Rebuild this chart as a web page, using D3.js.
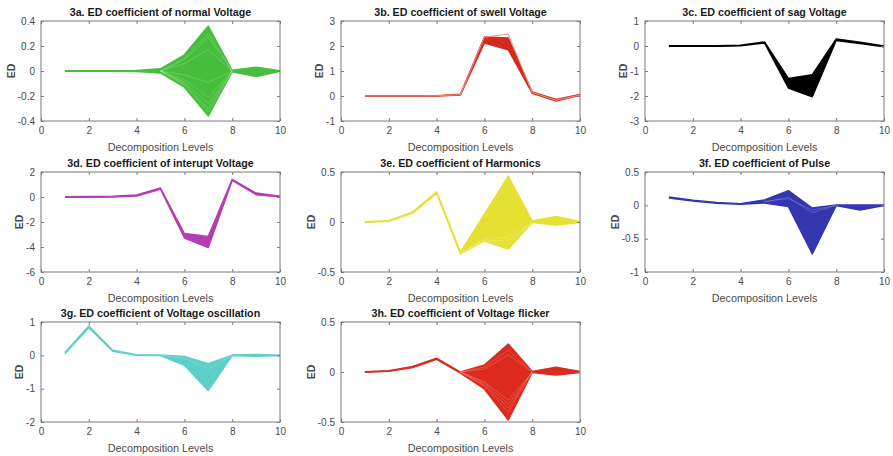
<!DOCTYPE html>
<html>
<head>
<meta charset="utf-8">
<script src="https://cdn.jsdelivr.net/npm/d3@7"></script>
<style>
  html, body { margin: 0; padding: 0; background: #fff; }
  svg { display: block; }
  text { font-family: "Liberation Sans", Arial, sans-serif; }
</style>
</head>
<body>
<svg id="chart" width="893" height="456"></svg>
<script>
// Decomposition levels on the x axis
const levels = [1, 2, 3, 4, 5, 6, 7, 8, 9, 10];
const xTicks = [0, 2, 4, 6, 8, 10];

// 3a. normal voltage: envelope of the ED coefficient family
const normalUpper = [0.002, 0.002, 0.002, 0.004, 0.018, 0.13, 0.36, 0.006, 0.03, 0.003];
const normalLower = [-0.002, -0.002, -0.002, -0.004, -0.016, -0.13, -0.36, -0.006, -0.045, -0.003];
const normalGaps = [
  [null, null, null, null, 0, 0.10, 0.30, 0, null, null],
  [null, null, null, null, 0, 0.09, 0.27, 0, null, null],
  [null, null, null, null, 0, 0.06, 0.17, 0, null, null],
  [null, null, null, null, 0, -0.03, -0.09, 0, null, null],
  [null, null, null, null, 0, -0.07, -0.21, 0, null, null],
  [null, null, null, null, 0, -0.09, -0.26, 0, null, null],
  [null, null, null, null, 0, -0.10, -0.30, 0, null, null],
  [null, null, null, null, 0, -0.11, -0.33, 0, null, null]
];

// 3b. swell voltage
const swellUpper = [0.0, 0.0, 0.0, 0.01, 0.07, 2.36, 2.32, 0.16, -0.14, 0.06];
const swellLower = [-0.01, -0.01, -0.01, 0.0, 0.04, 2.12, 1.85, 0.11, -0.2, 0.03];
const swellOutlier = [0, 0, 0, 0.01, 0.05, 2.35, 2.48, 0.14, -0.17, 0.04];

// 3c. sag voltage
const sagUpper = [0.01, 0.01, 0.01, 0.03, 0.16, -1.3, -1.15, 0.28, 0.15, 0.0];
const sagLower = [-0.01, -0.01, -0.01, 0.01, 0.12, -1.68, -2.03, 0.22, 0.1, -0.03];

// 3d. interruption
const interruptUpper = [0.03, 0.04, 0.06, 0.16, 0.72, -2.92, -3.15, 1.42, 0.32, 0.07];
const interruptLower = [-0.03, -0.02, 0.0, 0.08, 0.62, -3.28, -4.05, 1.32, 0.18, 0.02];

// 3e. harmonics
const harmonicsUpper = [0.004, 0.014, 0.102, 0.302, -0.3, 0.08, 0.46, 0.01, 0.055, 0.005];
const harmonicsLower = [-0.004, 0.006, 0.088, 0.288, -0.32, -0.19, -0.27, -0.005, -0.03, -0.005];
const harmonicsGaps = [
  [null, null, null, null, -0.31, -0.17, -0.15, 0, null, null],
  [null, null, null, null, -0.31, -0.18, -0.19, 0, null, null],
  [null, null, null, null, -0.31, -0.19, -0.22, 0, null, null]
];

// 3f. pulse
const pulseUpper = [0.125, 0.077, 0.042, 0.026, 0.08, 0.22, -0.04, 0.005, 0.005, 0.005];
const pulseLower = [0.11, 0.065, 0.03, 0.015, 0.035, -0.02, -0.73, -0.005, -0.07, -0.005];
const pulseGaps = [
  [null, null, null, null, 0.06, 0.10, -0.07, 0, null, null],
  [null, null, null, null, 0.05, 0.12, -0.11, 0, null, null]
];

// 3g. voltage oscillation
const oscillationUpper = [0.085, 0.88, 0.155, 0.02, 0.008, -0.03, -0.25, 0.008, 0.03, 0.006];
const oscillationLower = [0.05, 0.83, 0.12, 0.0, -0.008, -0.3, -1.06, -0.008, -0.03, -0.006];
const oscillationGaps = [
  [null, null, null, null, 0, -0.1, -0.4, 0, null, null]
];

// 3h. voltage flicker
const flickerUpper = [0.004, 0.014, 0.056, 0.138, 0.0, 0.07, 0.28, 0.005, 0.047, 0.005];
const flickerLower = [-0.004, 0.006, 0.044, 0.126, -0.012, -0.17, -0.48, -0.005, -0.03, -0.005];
const flickerGaps = [
  [null, null, null, null, 0, 0.05, 0.22, 0, null, null],
  [null, null, null, null, 0, 0.03, 0.17, 0, null, null],
  [null, null, null, null, 0, -0.1, -0.28, 0, null, null],
  [null, null, null, null, 0, -0.11, -0.32, 0, null, null],
  [null, null, null, null, 0, -0.13, -0.36, 0, null, null],
  [null, null, null, null, 0, -0.14, -0.40, 0, null, null]
];

const titles = [
  "3a. ED coefficient of normal Voltage",
  "3b. ED coefficient of swell Voltage",
  "3c. ED coefficient of sag Voltage",
  "3d. ED coefficient of interupt Voltage",
  "3e. ED coefficient of Harmonics",
  "3f. ED coefficient of Pulse",
  "3g. ED coefficient of Voltage oscillation",
  "3h. ED coefficient of Voltage flicker"
];

const yDomains = [[-0.4, 0.4], [-1, 3], [-3, 1], [-6, 2], [-0.5, 0.5], [-1, 0.5], [-2, 1], [-0.5, 0.5]];
const yTicks = [
  [-0.4, -0.2, 0, 0.2, 0.4],
  [-1, 0, 1, 2, 3],
  [-3, -2, -1, 0, 1],
  [-6, -4, -2, 0, 2],
  [-0.5, 0, 0.5],
  [-1, -0.5, 0, 0.5],
  [-2, -1, 0, 1],
  [-0.5, 0, 0.5]
];

const panels = [
  { upper: normalUpper, lower: normalLower, gaps: normalGaps, color: "#46be3c" },
  { upper: swellUpper, lower: swellLower, extra: swellOutlier, extraColor: "#e8958a", color: "#d42a1e" },
  { upper: sagUpper, lower: sagLower, color: "#000000" },
  { upper: interruptUpper, lower: interruptLower, color: "#b43cb4" },
  { upper: harmonicsUpper, lower: harmonicsLower, gaps: harmonicsGaps, color: "#e6e032" },
  { upper: pulseUpper, lower: pulseLower, gaps: pulseGaps, color: "#3436b0" },
  { upper: oscillationUpper, lower: oscillationLower, gaps: oscillationGaps, color: "#5ccfc8" },
  { upper: flickerUpper, lower: flickerLower, gaps: flickerGaps, color: "#dc2a1e" }
];

// Grid layout: 3 columns x 3 rows of axes
const colLeft = [41, 341, 645];
const rowTop = [21, 172, 322];
const plotW = 239, plotH = 100;
const axisColor = "#7a7a7a";
const labelColor = "#4a4a4a";

const svg = d3.select("#chart");

panels.forEach((p, i) => {
  const col = i % 3, row = Math.floor(i / 3);
  const g = svg.append("g").attr("transform", `translate(${colLeft[col]},${rowTop[row]})`);

  const x = d3.scaleLinear().domain([0, 10]).range([0, plotW]);
  const y = d3.scaleLinear().domain(yDomains[i]).range([plotH, 0]);

  // filled band between the lowest and highest curve of the family
  const band = levels.map((l, k) => ({ l, lo: p.lower[k], hi: p.upper[k] }));
  const area = d3.area().x(d => x(d.l)).y0(d => y(d.lo)).y1(d => y(d.hi));
  g.append("path").datum(band).attr("d", area).attr("fill", p.color);

  const line = d3.line()
    .defined(d => d.v != null)
    .x(d => x(d.l)).y(d => y(d.v));
  const series = arr => levels.map((l, k) => ({ l, v: arr[k] }));

  [p.upper, p.lower].forEach(arr => {
    g.append("path").datum(series(arr)).attr("d", line)
      .attr("fill", "none").attr("stroke", p.color)
      .attr("stroke-width", 1.4).attr("stroke-linejoin", "round");
  });

  // lighter gaps between neighbouring curves inside the band
  if (p.gaps) {
    p.gaps.forEach(arr => {
      g.append("path").datum(series(arr)).attr("d", line)
        .attr("fill", "none").attr("stroke", "#fff")
        .attr("stroke-opacity", 0.22).attr("stroke-width", 0.8);
    });
  }
  if (p.extra) {
    g.append("path").datum(series(p.extra)).attr("d", line)
      .attr("fill", "none").attr("stroke", p.extraColor).attr("stroke-width", 1);
  }

  // axes box with inward ticks on all four sides
  const tickLen = 3;
  const bottom = g.append("g").attr("transform", `translate(0,${plotH})`)
    .call(d3.axisBottom(x).tickValues(xTicks).tickSizeInner(-tickLen).tickSizeOuter(0).tickPadding(6).tickFormat(d3.format("d")));
  const top = g.append("g")
    .call(d3.axisTop(x).tickValues(xTicks).tickSizeInner(-tickLen).tickSizeOuter(0).tickFormat(""));
  const left = g.append("g")
    .call(d3.axisLeft(y).tickValues(yTicks[i]).tickSizeInner(-tickLen).tickSizeOuter(0).tickPadding(6).tickFormat(v => String(v)));
  const right = g.append("g").attr("transform", `translate(${plotW},0)`)
    .call(d3.axisRight(y).tickValues(yTicks[i]).tickSizeInner(-tickLen).tickSizeOuter(0).tickFormat(""));

  [bottom, top, left, right].forEach(a => {
    a.select(".domain").remove();
    a.selectAll("line").attr("stroke", axisColor);
    a.selectAll("text").attr("fill", labelColor).attr("font-size", 10)
      .attr("font-family", "'Liberation Sans', Arial, sans-serif");
  });

  g.append("rect").attr("width", plotW).attr("height", plotH)
    .attr("fill", "none").attr("stroke", axisColor).attr("stroke-width", 1);

  // title
  g.append("text").attr("x", plotW / 2).attr("y", -5)
    .attr("text-anchor", "middle").attr("font-size", 10.7).attr("font-weight", "bold")
    .attr("fill", "#1a1a1a").text(titles[i]);

  // x label
  g.append("text").attr("x", plotW / 2).attr("y", plotH + 30)
    .attr("text-anchor", "middle").attr("font-size", 10.8)
    .attr("fill", labelColor).text("Decomposition Levels");

  // y label, placed just outside the widest tick label
  let maxW = 0;
  left.selectAll("text").each(function () { maxW = Math.max(maxW, this.getComputedTextLength()); });
  g.append("text")
    .attr("transform", `translate(${-maxW - 9},${plotH / 2}) rotate(-90)`)
    .attr("text-anchor", "middle").attr("font-size", 10.5).attr("font-weight", "bold")
    .attr("fill", labelColor).text("ED");
});
</script>
</body>
</html>
